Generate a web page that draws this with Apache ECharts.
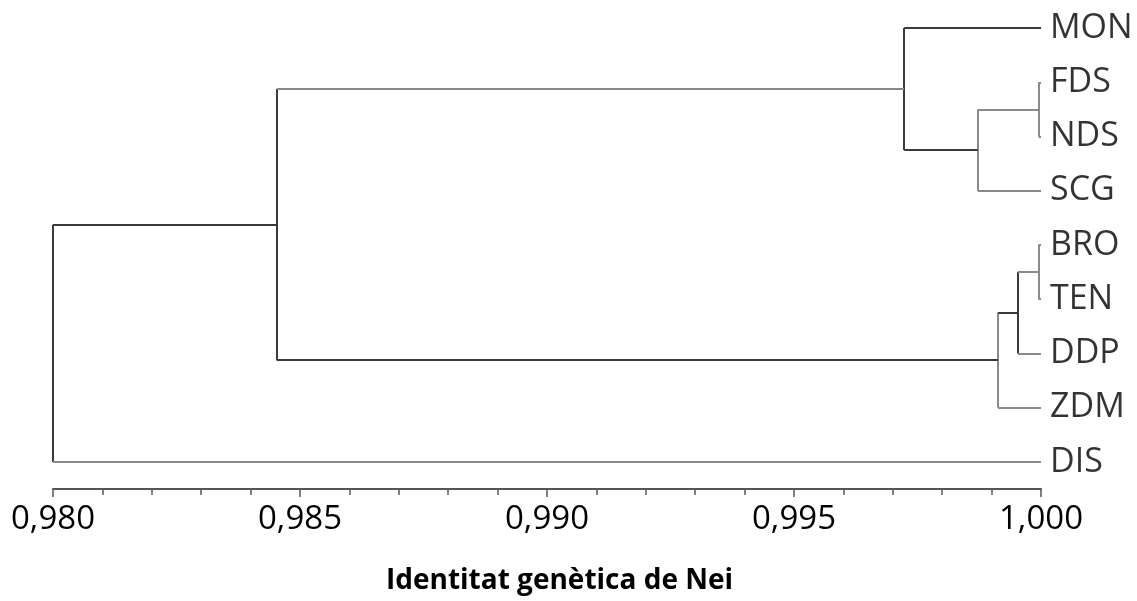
<!DOCTYPE html>
<html>
<head>
<meta charset="utf-8">
<script src="https://cdn.jsdelivr.net/npm/echarts@6/dist/echarts.min.js"></script>
<style>
html,body{margin:0;padding:0;background:#fff;}
#chart{width:1137px;height:601px;}
</style>
</head>
<body>
<div id="chart"></div>
<script>
// Leaves in display order (top to bottom)
var leaves = ['MON', 'FDS', 'NDS', 'SCG', 'BRO', 'TEN', 'DDP', 'ZDM', 'DIS'];
// Merges: [childA, childB, Nei identity at join]; negative = leaf index (-(i+1)), positive = merge number (1-based)
var mergeA = [-2, 1, -1, -5, 4, 5, 3, 7];
var mergeB = [-3, -4, 2, -6, -7, -8, 6, -9];
var mergeH = [0.99995, 0.99872, 0.99723, 0.99995, 0.99953, 0.99913, 0.98453, 0.98000];
// tone of each link (0 dark, 1 light) for merge i: [vertical, childA horiz, childB horiz]
var toneV = [1, 1, 0, 1, 0, 1, 0, 0];
var toneA = [1, 1, 0, 1, 1, 0, 1, 0];
var toneB = [1, 1, 0, 1, 1, 1, 0, 1];
var xTicks = ['0,980', '0,985', '0,990', '0,995', '1,000'];

var colors = ['#3a3a3a', '#8a8a8a'];
var nodeX = [], nodeY = [];
function pos(c) {
  if (c < 0) return [1.0, -c - 1];
  return [nodeX[c - 1], nodeY[c - 1]];
}
var segs = [];
for (var i = 0; i < mergeA.length; i++) {
  var a = pos(mergeA[i]), b = pos(mergeB[i]), h = mergeH[i];
  nodeX.push(h); nodeY.push((a[1] + b[1]) / 2);
  segs.push({coords: [[h, a[1]], [h, b[1]]], lineStyle: {color: colors[toneV[i]]}});
  segs.push({coords: [[h, a[1]], [a[0], a[1]]], lineStyle: {color: colors[toneA[i]]}});
  segs.push({coords: [[h, b[1]], [b[0], b[1]]], lineStyle: {color: colors[toneB[i]]}});
}
var leafPts = leaves.map(function (n, i) { return {value: [1.0, i], name: n}; });

var chart = echarts.init(document.getElementById('chart'));
chart.setOption({
  animation: false,
  backgroundColor: '#fff',
  grid: {left: 53, right: 96, top: 1, bottom: 112},
  xAxis: {
    type: 'value', min: 0.98, max: 1.0, interval: 0.005, position: 'bottom',
    axisLine: {show: true, onZero: false, lineStyle: {color: '#555', width: 2}},
    axisTick: {show: true, inside: false, length: 8, lineStyle: {color: '#555', width: 1.5}},
    minorTick: {show: true, splitNumber: 5, length: 6, lineStyle: {color: '#555', width: 1.5}},
    splitLine: {show: false},
    axisLabel: {
      margin: 14, color: '#000', fontSize: 33, fontFamily: 'Open Sans',
      formatter: function (v) { return xTicks[Math.round((v - 0.98) / 0.005)]; }
    },
    name: 'Identitat genètica de Nei', nameLocation: 'middle', nameGap: 78,
    nameTextStyle: {fontSize: 28, fontWeight: 'bold', color: '#000', fontFamily: 'Open Sans',
      padding: [0, 0, 0, 25]}
  },
  yAxis: {type: 'value', inverse: true, min: -0.5, max: 8.5, show: false},
  series: [
    {
      type: 'lines', coordinateSystem: 'cartesian2d', polyline: false,
      lineStyle: {width: 2, opacity: 1},
      data: segs, silent: true
    },
    {
      type: 'scatter', symbolSize: 0, data: leafPts,
      label: {show: true, position: 'right', distance: 9, formatter: '{b}',
        fontSize: 34, color: '#000', fontFamily: 'Open Sans'}
    }
  ]
});
</script>
</body>
</html>
